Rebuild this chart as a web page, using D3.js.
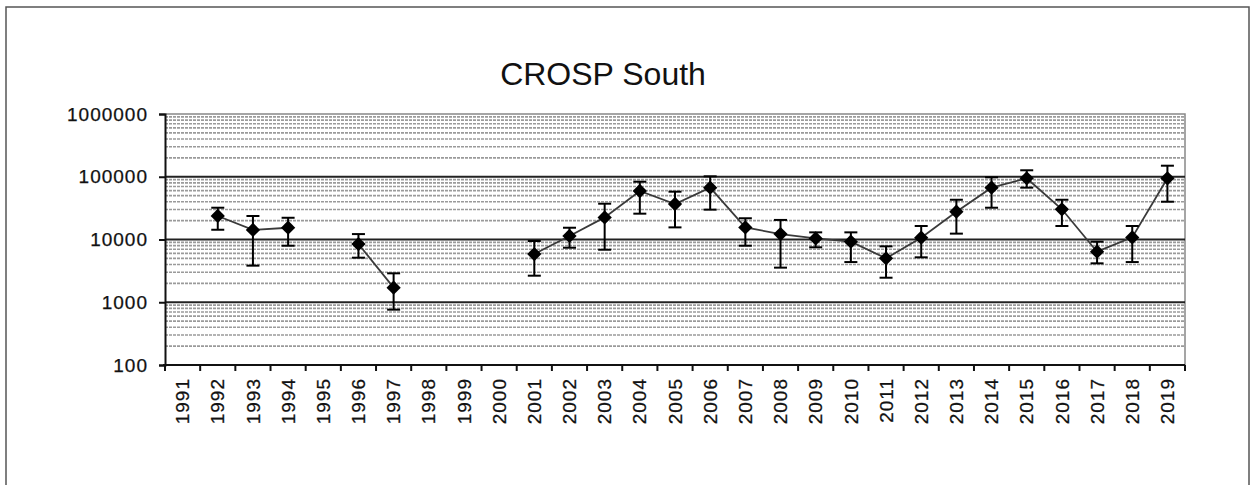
<!DOCTYPE html>
<html>
<head>
<meta charset="utf-8">
<script src="https://cdn.jsdelivr.net/npm/d3@7/dist/d3.min.js"></script>
<style>
  html, body { margin: 0; padding: 0; background: #fff; }
  svg { display: block; }
  text { font-family: "Liberation Sans", Arial, sans-serif; }
</style>
</head>
<body>
<svg id="chart" width="1253" height="485"></svg>
<script>
const title = "CROSP South";
const years = ["1991","1992","1993","1994","1995","1996","1997","1998","1999","2000","2001","2002","2003","2004","2005","2006","2007","2008","2009","2010","2011","2012","2013","2014","2015","2016","2017","2018","2019"];
const values = [null, 23700, 14200, 15400, null, 8470, 1710, null, null, null, 5870, 11400, 22500, 59300, 36800, 67000, 15600, 12200, 10400, 9230, 5010, 10700, 27700, 67000, 94400, 30300, 6390, 10800, 94400];
const upper  = [null, 32100, 23700, 22200, null, 12200, 2890, null, null, null, 9460, 15400, 37200, 83400, 57800, 101600, 21800, 20500, 13000, 13000, 7780, 16400, 43000, 98000, 126800, 43000, 9230, 16400, 150000];
const lower  = [null, 14300, 3830, 7960, null, 5130, 762, null, null, null, 2650, 7400, 6870, 25800, 15600, 29900, 7960, 3560, 7510, 4370, 2460, 5200, 12400, 32100, 67000, 16400, 4170, 4370, 40000];
const yTicks = [100, 1000, 10000, 100000, 1000000];

const svg = d3.select("#chart");
const L = 165, R = 1185, T = 114, B = 365;

// outer border
svg.append("rect").attr("x", 6).attr("y", 7).attr("width", 1243).attr("height", 500)
  .attr("fill", "none").attr("stroke", "#555").attr("stroke-width", 1.5);

const x = d3.scaleBand().domain(years).range([L, R]).padding(0);
const y = d3.scaleLog().domain([100, 1000000]).range([B, T]);

// minor gridlines
const minor = [];
for (let d = 100; d < 1000000; d *= 10) for (let k = 2; k <= 9; k++) minor.push(d * k);
svg.append("g").selectAll("line").data(minor).join("line")
  .attr("x1", L).attr("x2", R).attr("y1", d => y(d)).attr("y2", d => y(d))
  .attr("stroke", "#9a9a9a").attr("stroke-width", 1.6).attr("stroke-dasharray", "3,1");

// plot border top/right
svg.append("path").attr("d", `M${L},${T}H${R}V${B}`).attr("fill", "none")
  .attr("stroke", "#888").attr("stroke-width", 1.5);

// major gridlines
svg.append("g").selectAll("line").data(yTicks.slice(1, -1)).join("line")
  .attr("x1", L).attr("x2", R).attr("y1", d => y(d)).attr("y2", d => y(d))
  .attr("stroke", "#222").attr("stroke-width", 2);

const labelFont = g => g.attr("font-size", 19).attr("fill", "#111")
  .attr("letter-spacing", "1px").attr("stroke", "#111").attr("stroke-width", 0.25)
  .attr("font-family", "'Liberation Sans', Arial, sans-serif");

// y axis
const yAxis = svg.append("g").attr("transform", `translate(${L},0)`)
  .call(d3.axisLeft(y).tickValues(yTicks).tickFormat(d3.format("d")).tickSize(6).tickPadding(11));
yAxis.select(".domain").attr("stroke", "#111").attr("stroke-width", 2);
yAxis.selectAll(".tick line").attr("stroke", "#111").attr("stroke-width", 2);
yAxis.selectAll("text").call(labelFont);

// x axis (boundary ticks)
const bounds = years.map(yr => x(yr)).concat([R]);
const xg = svg.append("g");
xg.append("line").attr("x1", L - 2).attr("x2", R).attr("y1", B).attr("y2", B)
  .attr("stroke", "#111").attr("stroke-width", 2);
xg.selectAll(".bt").data(bounds).join("line").attr("class", "bt")
  .attr("x1", d => d).attr("x2", d => d).attr("y1", B).attr("y2", B + 6)
  .attr("stroke", "#111").attr("stroke-width", 2);
const xAxis = svg.append("g").attr("transform", `translate(0,${B})`)
  .call(d3.axisBottom(x).tickSize(0).tickPadding(0));
xAxis.select(".domain").remove();
xAxis.selectAll("text").call(labelFont)
  .attr("text-anchor", "end")
  .attr("dy", "0.35em")
  .attr("transform", "translate(0,13) rotate(-90)")
  .attr("x", 0).attr("y", 0);

// data
const data = years.map((yr, i) => ({ yr, v: values[i], hi: upper[i], lo: lower[i] }));
const cx = d => x(d.yr) + x.bandwidth() / 2;

svg.append("path").datum(data)
  .attr("d", d3.line().defined(d => d.v != null).x(cx).y(d => y(d.v)))
  .attr("fill", "none").attr("stroke", "#3a3a3a").attr("stroke-width", 1.8);

const pts = data.filter(d => d.v != null);
const eb = svg.append("g").attr("stroke", "#000").attr("stroke-width", 2);
eb.selectAll(".v").data(pts).join("line")
  .attr("x1", cx).attr("x2", cx).attr("y1", d => y(d.hi)).attr("y2", d => y(d.lo));
eb.selectAll(".ct").data(pts).join("line")
  .attr("x1", d => cx(d) - 6.5).attr("x2", d => cx(d) + 6.5).attr("y1", d => y(d.hi)).attr("y2", d => y(d.hi));
eb.selectAll(".cb").data(pts).join("line")
  .attr("x1", d => cx(d) - 6.5).attr("x2", d => cx(d) + 6.5).attr("y1", d => y(d.lo)).attr("y2", d => y(d.lo));

svg.append("g").selectAll("path").data(pts).join("path")
  .attr("d", d3.symbol().type(d3.symbolDiamond2).size(130))
  .attr("transform", d => `translate(${cx(d)},${y(d.v)})`)
  .attr("fill", "#000");

// title
svg.append("text").attr("x", 603).attr("y", 85).attr("text-anchor", "middle")
  .attr("font-size", 32).attr("fill", "#111").text(title);
</script>
</body>
</html>
